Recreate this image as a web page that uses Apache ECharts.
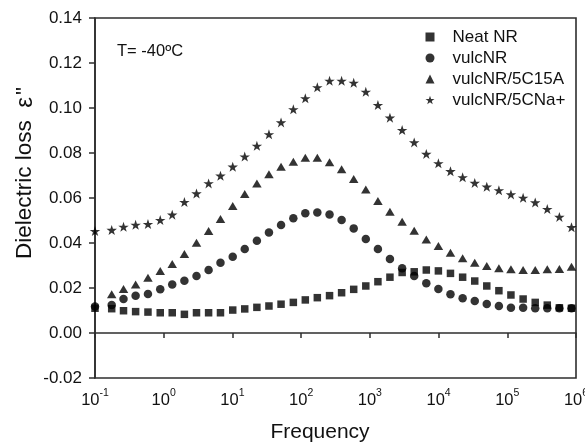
<!DOCTYPE html>
<html>
<head>
<meta charset="utf-8">
<script src="https://cdn.jsdelivr.net/npm/echarts@6/dist/echarts.min.js"></script>
<style>
html,body{margin:0;padding:0;background:#fff;}
#chart{width:585px;height:443px;}
</style>
</head>
<body>
<div id="chart"></div>
<script>
// Frequency (Hz)
const freq = [0.1, 0.175, 0.26, 0.39, 0.59, 0.89, 1.33, 2.0, 3.0, 4.5, 6.7, 10.1, 15.1, 22.7, 34, 51, 77, 115, 172, 259, 388, 582, 873, 1310, 1960, 2950, 4420, 6630, 9940, 14900, 22400, 33600, 50300, 75500, 113000, 170000, 255000, 382000, 573000, 860000];
// Dielectric loss values
const neatNR = [0.0110, 0.0108, 0.0099, 0.0095, 0.0093, 0.0090, 0.0090, 0.0083, 0.0090, 0.0090, 0.0090, 0.0102, 0.0107, 0.0114, 0.0120, 0.0128, 0.0136, 0.0147, 0.0157, 0.0166, 0.0179, 0.0194, 0.0209, 0.0228, 0.0248, 0.0269, 0.0272, 0.0280, 0.0276, 0.0265, 0.0248, 0.0231, 0.0209, 0.0188, 0.0169, 0.0151, 0.0136, 0.0124, 0.0112, 0.0110];
const vulcNR = [0.0118, 0.0124, 0.0151, 0.0166, 0.0173, 0.0194, 0.0216, 0.0232, 0.0253, 0.0280, 0.0312, 0.0339, 0.0373, 0.0410, 0.0447, 0.0480, 0.0510, 0.0532, 0.0536, 0.0527, 0.0502, 0.0465, 0.0418, 0.0373, 0.0329, 0.0288, 0.0253, 0.0221, 0.0196, 0.0172, 0.0154, 0.0142, 0.0129, 0.0120, 0.0112, 0.0112, 0.0110, 0.0110, 0.0110, 0.0110];
const vulcNR5C15A = [null, 0.0172, 0.0196, 0.0216, 0.0246, 0.0276, 0.0307, 0.0351, 0.0401, 0.0453, 0.0507, 0.0564, 0.0618, 0.0664, 0.0706, 0.0739, 0.0761, 0.0779, 0.0779, 0.0759, 0.0728, 0.0684, 0.0638, 0.0587, 0.0539, 0.0495, 0.0455, 0.0416, 0.0387, 0.0357, 0.0332, 0.0312, 0.0298, 0.0288, 0.0283, 0.0280, 0.0280, 0.0283, 0.0284, 0.0295];
const vulcNR5CNa = [0.0453, 0.0458, 0.0472, 0.0481, 0.0484, 0.0502, 0.0526, 0.0582, 0.0620, 0.0665, 0.0699, 0.0739, 0.0784, 0.0832, 0.0883, 0.0936, 0.0994, 0.1043, 0.1092, 0.1121, 0.1121, 0.1112, 0.1072, 0.1013, 0.0957, 0.0902, 0.0847, 0.0796, 0.0754, 0.0719, 0.0692, 0.0667, 0.0650, 0.0634, 0.0616, 0.0601, 0.0580, 0.0551, 0.0516, 0.0470];
const seriesNames = ['Neat NR', 'vulcNR', 'vulcNR/5C15A', 'vulcNR/5CNa+'];
const yTicks = { min: -0.02, max: 0.14, interval: 0.02 };
const xRange = { min: 0.1, max: 1000000 };
const annotation = 'T= -40ºC';
const xTitle = 'Frequency';
const yTitleMain = 'Dielectric loss  ';
const yTitleSym = 'ε';
const yTitleSup = '"';

const FONT = '"Liberation Sans", Arial, Helvetica, sans-serif';
const STAR = 'path://M50,0 L61.8,35.1 L98.1,35.1 L68.8,56.7 L79.4,91 L50,70 L20.6,91 L31.2,56.7 L1.9,35.1 L38.2,35.1 Z';

function pairs(ys) {
  const out = [];
  for (let i = 0; i < freq.length; i++) {
    if (ys[i] != null) out.push([freq[i], ys[i]]);
  }
  return out;
}

const chart = echarts.init(document.getElementById('chart'), null, { renderer: 'canvas' });

const axisColor = '#2e2e2e';
const supRich = {
  b: { fontSize: 16.5, fontFamily: FONT, color: '#111' },
  s: { fontSize: 10.5, fontFamily: FONT, color: '#111', padding: [0, 0, 14, 0] }
};

const option = {
  animation: false,
  backgroundColor: '#fff',
  grid: { left: 95, top: 18, right: 9, bottom: 65, show: true, borderColor: axisColor, borderWidth: 1.6, containLabel: false, outerBoundsMode: 'none' },
  legend: {
    orient: 'vertical',
    left: 420.5,
    top: 21.5,
    itemWidth: 9,
    itemHeight: 9,
    itemGap: 0,
    data: seriesNames,
    textStyle: { fontSize: 17, fontFamily: FONT, color: '#111', lineHeight: 21, padding: [0, 0, 0, 13] }
  },
  xAxis: {
    type: 'log',
    logBase: 10,
    min: xRange.min,
    max: xRange.max,
    splitNumber: 7,
    axisLine: { show: true, lineStyle: { color: axisColor, width: 1.6 } },
    axisTick: { show: true, inside: false, length: 5, lineStyle: { color: axisColor, width: 1.5 } },
    minorTick: { show: false },
    splitLine: { show: false },
    axisLabel: {
      show: true, margin: 10, showMinLabel: true, showMaxLabel: true, hideOverlap: false,
      formatter: function (v) {
        const e = Math.round(Math.log10(v));
        return '{b|10}{s|' + e + '}';
      },
      rich: supRich
    }
  },
  yAxis: {
    type: 'value',
    min: yTicks.min,
    max: yTicks.max,
    interval: yTicks.interval,
    axisLine: { show: true, lineStyle: { color: axisColor, width: 1.6 } },
    axisTick: { show: true, inside: false, length: 6, lineStyle: { color: axisColor, width: 1.5 } },
    splitLine: { show: false },
    axisLabel: {
      show: true, margin: 13, fontSize: 17, fontFamily: FONT, color: '#111', showMinLabel: true, showMaxLabel: true,
      formatter: function (v) { return v.toFixed(2); }
    }
  },
  graphic: [
    { type: 'text', left: 117, top: 43, style: { text: annotation, font: '16.5px ' + FONT, fill: '#111' } },
    { type: 'text', x: 320, y: 432, style: { text: xTitle, font: '21px ' + FONT, fill: '#111', align: 'center', verticalAlign: 'middle' } },
    { type: 'text', x: 25, y: 259, rotation: Math.PI / 2, style: {
        text: '{m|' + yTitleMain + '}{e|' + yTitleSym + '}{q|' + yTitleSup + '}',
        align: 'left', verticalAlign: 'middle',
        rich: {
          m: { fontSize: 22.5, fontFamily: FONT, fill: '#111', color: '#111' },
          e: { fontSize: 24, fontFamily: FONT, fill: '#111', color: '#111' },
          q: { fontSize: 22.5, fontFamily: FONT, fill: '#111', color: '#111', padding: [0, 0, 0, 2] }
        }
      } }
  ],
  series: [
    { name: seriesNames[0], type: 'scatter', symbol: 'square', symbolSize: 7.5, itemStyle: { color: '#000' }, clip: false, data: pairs(neatNR) },
    { name: seriesNames[1], type: 'scatter', symbol: 'circle', symbolSize: 8.5, itemStyle: { color: '#000' }, clip: false, data: pairs(vulcNR) },
    { name: seriesNames[2], type: 'scatter', symbol: 'triangle', symbolSize: [9.5, 8], itemStyle: { color: '#000' }, clip: false, data: pairs(vulcNR5C15A) },
    { name: seriesNames[3], type: 'scatter', symbol: STAR, symbolSize: [10.5, 10], itemStyle: { color: '#000' }, clip: false, data: pairs(vulcNR5CNa) }
  ]
};
chart.setOption(option);
</script>
</body>
</html>
